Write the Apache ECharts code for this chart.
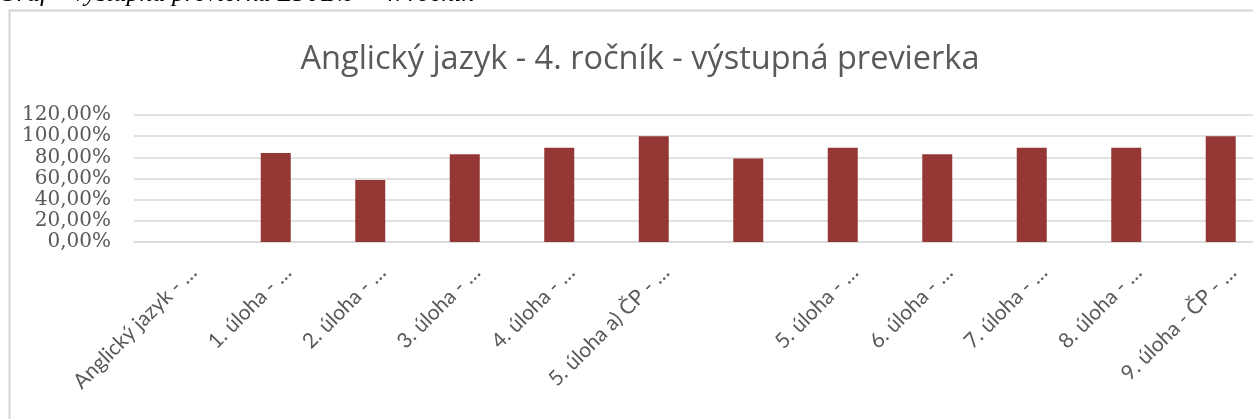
<!DOCTYPE html>
<html>
<head>
<meta charset="utf-8">
<script src="https://cdn.jsdelivr.net/npm/echarts@6/dist/echarts.min.js"></script>
<style>
  html, body { margin: 0; padding: 0; background: #fff; overflow: hidden; }
  #main { width: 1290px; height: 419px; }
</style>
</head>
<body>
<div id="main"></div>
<script>
// categories (one has an empty label in the source chart)
const categories = [
  "Anglický jazyk - …", "1. úloha - …", "2. úloha - …", "3. úloha - …",
  "4. úloha - …", "5. úloha a) ČP - …", "", "5. úloha - …",
  "6. úloha - …", "7. úloha - …", "8. úloha - …", "9. úloha - ČP - …"
];
// share of correct answers (0..1)
const values = [0, 0.84, 0.585, 0.83, 0.89, 1.0, 0.79, 0.89, 0.83, 0.89, 0.89, 1.0];
const yTicks = [0, 0.2, 0.4, 0.6, 0.8, 1.0, 1.2];

const chartTitle = "Anglický jazyk - 4. ročník - výstupná previerka";
const captionText = "Graf – výstupná previerka ZŠ ANJ – 4. ročník";

const gray = "#595959";
const chart = echarts.init(document.getElementById("main"));

const pct = v => (v * 100).toFixed(2).replace(".", ",") + "%";

chart.setOption({
  animation: false,
  graphic: [
    {
      type: "rect",
      shape: { x: 9.5, y: 10.5, width: 1400, height: 500 },
      style: { fill: "none", stroke: "#d4d4d4", lineWidth: 2 },
      silent: true
    }
  ],
  title: [
    {
      text: chartTitle,
      left: 635,
      top: 38,
      textAlign: "center",
      textStyle: { fontFamily: "Open Sans", fontSize: 32.5, fontWeight: "normal", color: gray }
    },
    {
      text: captionText,
      left: -2,
      top: -19,
      padding: 0,
      textStyle: { fontFamily: "Liberation Serif", fontStyle: "italic", fontSize: 26, fontWeight: "normal", color: "#000" }
    }
  ],
  grid: [
    { left: 134, top: 115, height: 127, width: 1134, containLabel: false },
    { left: 146, top: 115, height: 127, width: 1134, containLabel: false }
  ],
  xAxis: [
    {
      type: "category",
      gridIndex: 0,
      data: categories,
      axisLine: { lineStyle: { color: "#d9d9d9", width: 1.5 } },
      axisTick: { show: false },
      axisLabel: { show: false }
    },
    {
      type: "category",
      gridIndex: 1,
      data: categories,
      axisLine: { show: false },
      axisTick: { show: false },
      axisLabel: {
        interval: 0,
        rotate: 45,
        margin: 27,
        fontFamily: "Lato",
        fontSize: 21,
        color: gray
      }
    }
  ],
  yAxis: [
    {
      type: "value",
      gridIndex: 0,
      min: yTicks[0],
      max: yTicks[yTicks.length - 1],
      interval: yTicks[1] - yTicks[0],
      axisLine: { show: false },
      axisTick: { show: false },
      splitLine: { lineStyle: { color: "#d9d9d9", width: 1.5 } },
      axisLabel: {
        margin: 23,
        fontFamily: "DejaVu Serif",
        fontSize: 20,
        color: gray,
        formatter: pct
      }
    },
    {
      type: "value",
      gridIndex: 1,
      show: false,
      min: 0,
      max: 1.2
    }
  ],
  series: [
    {
      type: "bar",
      xAxisIndex: 0,
      yAxisIndex: 0,
      data: values,
      barWidth: 30,
      itemStyle: { color: "#953735" }
    }
  ]
});
</script>
</body>
</html>
